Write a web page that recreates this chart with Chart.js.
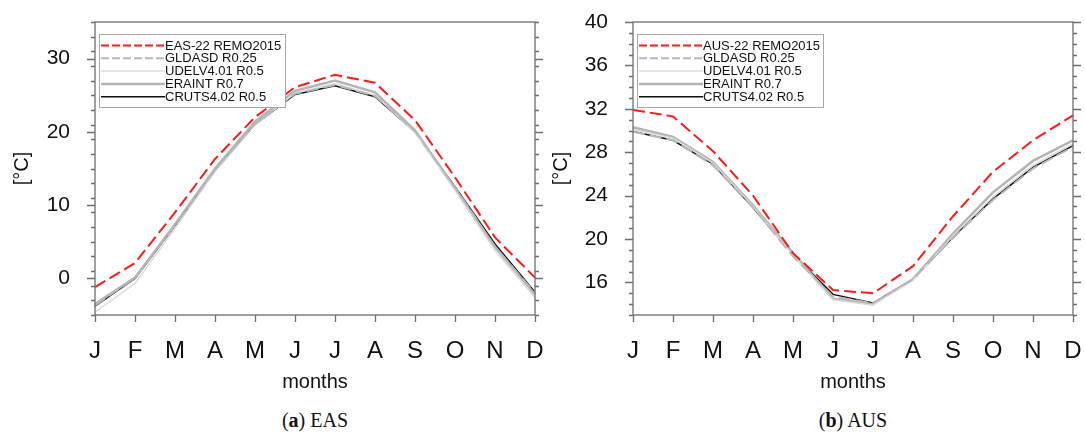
<!DOCTYPE html>
<html>
<head>
<meta charset="utf-8">
<script src="https://cdn.jsdelivr.net/npm/chart.js@4.4.1/dist/chart.umd.min.js"></script>
<style>
  body { margin: 0; background: #fff; width: 1085px; height: 437px; position: relative; overflow: hidden; }
  .box { position: absolute; top: 0; height: 400px; }
  .cap { position: absolute; top: 409px; font-family: "Liberation Serif", "DejaVu Serif", serif; font-size: 20px; color: #111; text-align: center; width: 300px; }
</style>
</head>
<body>
<div class="box" style="left:0;width:545px"><canvas id="eas" width="545" height="400"></canvas></div>
<div class="box" style="left:545px;width:540px"><canvas id="aus" width="540" height="400"></canvas></div>
<div class="cap" style="left:165px">(<b>a</b>) EAS</div>
<div class="cap" style="left:703px">(<b>b</b>) AUS</div>
<script>
// months on the x axis
const months = ['J', 'F', 'M', 'A', 'M', 'J', 'J', 'A', 'S', 'O', 'N', 'D'];

// EAS domain, monthly mean temperature [°C]
const easRemo   = [-1.2, 2.1, 9.0, 16.3, 22.0, 26.1, 27.8, 26.7, 21.6, 13.8, 5.6, 0.1];
const easGldas  = [-3.7, 0.1, 7.3, 14.8, 21.1, 25.2, 26.4, 24.9, 20.1, 12.4, 4.3, -2.0];
const easUdel   = [-4.6, -0.7, 6.8, 14.6, 20.9, 25.3, 26.6, 25.0, 19.9, 12.0, 3.8, -2.6];
const easEraint = [-3.5, 0.1, 7.4, 15.0, 21.4, 25.6, 27.0, 25.4, 20.2, 12.3, 4.3, -2.2];
const easCruts  = [-3.8, 0.0, 7.2, 14.7, 21.0, 25.1, 26.3, 24.8, 20.0, 12.5, 4.7, -1.9];

// AUS domain
const ausRemo   = [31.9, 31.3, 28.1, 24.0, 18.7, 15.3, 15.0, 17.5, 22.1, 26.2, 29.1, 31.4];
const ausGldas  = [29.9, 29.1, 26.8, 22.9, 18.4, 14.7, 14.1, 16.3, 20.1, 23.6, 26.5, 28.5];
const ausUdel   = [30.1, 29.3, 27.0, 23.0, 18.5, 14.4, 13.9, 16.2, 20.3, 23.9, 26.8, 28.8];
const ausEraint = [30.3, 29.4, 27.1, 23.1, 18.7, 14.5, 14.0, 16.3, 20.5, 24.3, 27.2, 29.1];
const ausCruts  = [29.9, 29.1, 26.9, 22.9, 18.6, 14.9, 14.1, 16.3, 20.2, 23.7, 26.6, 28.6];

// y tick labels
const easYTicks = [0, 10, 20, 30];
const ausYTicks = [16, 20, 24, 28, 32, 36, 40];

const obsNames = ['GLDASD R0.25', 'UDELV4.01 R0.5', 'ERAINT R0.7', 'CRUTS4.02 R0.5'];

// line styles: remo, gldas, udel, eraint, cruts
const styles = [
    { color: '#ff1a1a', width: 2, dash: [12, 5] },
    { color: '#b8b8b8', width: 2, dash: [12, 5] },
    { color: '#dcdcdc', width: 1.5, dash: [] },
    { color: '#b4b4b4', width: 2.5, dash: [] },
    { color: '#111111', width: 1.5, dash: [] }
];

// frame, outside ticks (major + minor) and the boxed legend
function decoPlugin(minorStep, names) {
    return {
        id: 'deco',
        afterDraw(chart) {
            const ctx = chart.ctx;
            const a = chart.chartArea;
            const x = chart.scales.x;
            const y = chart.scales.y;
            ctx.save();
            ctx.strokeStyle = '#6e6e6e';
            ctx.lineWidth = 1.3;
            ctx.strokeRect(a.left, a.top, a.right - a.left, a.bottom - a.top);

            ctx.beginPath();
            y.ticks.forEach(t => {
                const py = Math.round(y.getPixelForValue(t.value)) + 0.5;
                ctx.moveTo(a.left - 8, py); ctx.lineTo(a.left, py);
                ctx.moveTo(a.right, py); ctx.lineTo(a.right + 8, py);
            });
            for (let v = y.min; v <= y.max + 1e-9; v += minorStep) {
                const py = Math.round(y.getPixelForValue(v)) + 0.5;
                ctx.moveTo(a.left - 4, py); ctx.lineTo(a.left, py);
                ctx.moveTo(a.right, py); ctx.lineTo(a.right + 4, py);
            }
            months.forEach((m, i) => {
                const px = Math.round(x.getPixelForValue(i)) + 0.5;
                ctx.moveTo(px, a.bottom); ctx.lineTo(px, a.bottom + 7);
            });
            ctx.stroke();

            // legend
            const bx = a.left + 4, by = a.top + 12;
            ctx.fillStyle = '#fff';
            ctx.fillRect(bx, by, 186, 73);
            ctx.strokeStyle = '#a8a8a8';
            ctx.lineWidth = 1;
            ctx.strokeRect(bx + 0.5, by + 0.5, 186, 73);
            ctx.font = '13px "Liberation Sans", Arial, sans-serif';
            ctx.textBaseline = 'middle';
            ctx.textAlign = 'left';
            names.forEach((n, i) => {
                const ry = by + 11.5 + i * 12.8;
                const s = styles[i];
                ctx.strokeStyle = s.color;
                ctx.lineWidth = s.width;
                ctx.setLineDash(s.dash.length ? [8, 3] : []);
                ctx.beginPath();
                ctx.moveTo(bx + 2, ry); ctx.lineTo(bx + 66, ry);
                ctx.stroke();
                ctx.setLineDash([]);
                ctx.fillStyle = '#111';
                ctx.fillText(n, bx + 66, ry + 0.5);
            });
            ctx.restore();
        }
    };
}

function makeChart(id, series, names, cfg) {
    const datasets = series.map((d, i) => ({
        label: names[i],
        data: d,
        borderColor: styles[i].color,
        borderWidth: styles[i].width,
        borderDash: styles[i].dash,
        pointRadius: 0,
        tension: 0,
        fill: false
    }));
    return new Chart(document.getElementById(id), {
        type: 'line',
        data: { labels: months, datasets: datasets },
        options: {
            responsive: false,
            animation: false,
            layout: { padding: { left: 0, right: cfg.padRight, top: cfg.padTop, bottom: 0 } },
            plugins: { legend: { display: false }, tooltip: { enabled: false } },
            scales: {
                x: {
                    type: 'category',
                    offset: false,
                    grid: { display: false, drawTicks: false },
                    border: { display: false },
                    ticks: {
                        color: '#111',
                        padding: 22,
                        maxRotation: 0,
                        autoSkip: false,
                        font: { family: '"Liberation Sans", Arial, sans-serif', size: 24 }
                    },
                    title: {
                        display: true,
                        text: 'months',
                        color: '#111',
                        padding: { top: 0, bottom: 6 },
                        font: { family: '"Liberation Sans", Arial, sans-serif', size: 20 }
                    },
                    afterFit(s) {
                        s.height = 400 - 315;
                        s.paddingLeft = 0;
                        s.paddingRight = 0;
                    }
                },
                y: {
                    min: cfg.min,
                    max: cfg.max,
                    grid: { display: false, drawTicks: false },
                    border: { display: false },
                    afterBuildTicks(s) { s.ticks = cfg.ticks.map(v => ({ value: v })); },
                    ticks: {
                        color: '#111',
                        padding: 25,
                        font: { family: '"Liberation Sans", Arial, sans-serif', size: 21 }
                    },
                    title: {
                        display: true,
                        text: '[°C]',
                        color: '#111',
                        padding: { top: cfg.titlePad, bottom: 0 },
                        font: { family: '"Liberation Sans", Arial, sans-serif', size: 20 }
                    },
                    afterFit(s) {
                        s.width = cfg.axisWidth;
                        s.paddingTop = 0;
                        s.paddingBottom = 0;
                    }
                }
            }
        },
        plugins: [decoPlugin(cfg.minorStep, names)]
    });
}

makeChart('eas', [easRemo, easGldas, easUdel, easEraint, easCruts],
    ['EAS-22 REMO2015'].concat(obsNames),
    { min: -5, max: 35, ticks: easYTicks, minorStep: 2, axisWidth: 95, padRight: 10, padTop: 22, titlePad: 10 });

makeChart('aus', [ausRemo, ausGldas, ausUdel, ausEraint, ausCruts],
    ['AUS-22 REMO2015'].concat(obsNames),
    { min: 13, max: 40, ticks: ausYTicks, minorStep: 1, axisWidth: 88, padRight: 12, padTop: 22, titlePad: 4 });
</script>
</body>
</html>
